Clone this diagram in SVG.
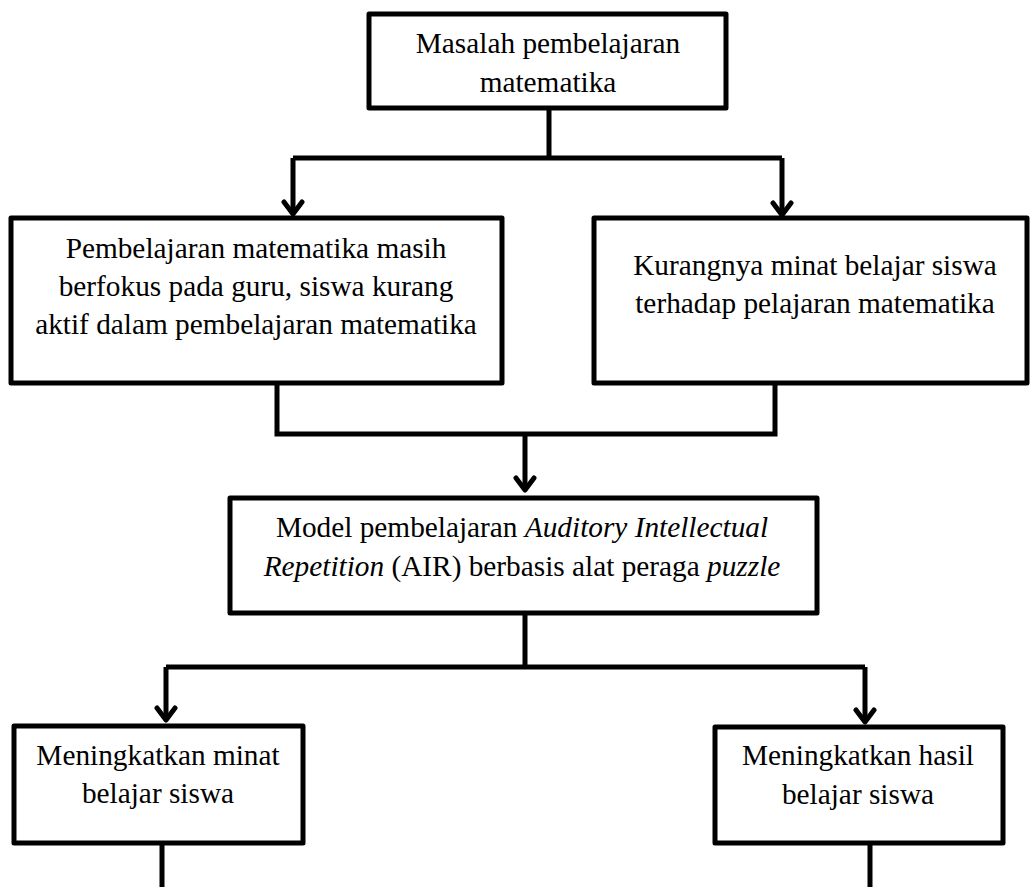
<svg xmlns="http://www.w3.org/2000/svg" width="1031" height="887" viewBox="0 0 1031 887">
<style>
.box{fill:#fff;stroke:#000;stroke-width:5;stroke-linejoin:round}
.ln{fill:none;stroke:#000;stroke-width:5;stroke-linejoin:miter}
.ah{fill:none;stroke:#000;stroke-width:5;stroke-linecap:round;stroke-linejoin:round}
text{font-family:"Liberation Serif","Times New Roman",serif;font-size:29.3px;fill:#000;text-anchor:middle}
.i{font-style:italic}
</style>
<rect width="1031" height="887" fill="#fff"/>
<g id="connectors">
<path class="ln" d="M549,108 V158 M293,158 H782 M293,158 V213 M782,158 V214"/>
<path class="ah" d="M284,202 L293,214 L302,202 M773,203 L782,215 L791,203"/>
<path class="ln" d="M277,383 V434 H775 V383 M525,434 V490"/>
<path class="ah" d="M516,478 L525,490 L534,478"/>
<path class="ln" d="M525,613 V667 M166,667 H865 M166,667 V720 M865,667 V722"/>
<path class="ah" d="M157,708 L166,720 L175,708 M856,710 L865,722 L874,710"/>
<path class="ln" d="M162,843 V887 M870,843 V887"/>
</g>
<g id="n1">
<rect class="box" x="369" y="14" width="357" height="94"/>
<text x="548" y="53">Masalah pembelajaran</text>
<text x="548" y="92">matematika</text>
</g>
<g id="n2">
<rect class="box" x="11" y="218" width="491" height="165"/>
<text x="256" y="258">Pembelajaran matematika masih</text>
<text x="256" y="296">berfokus pada guru, siswa kurang</text>
<text x="256" y="334">aktif dalam pembelajaran matematika</text>
</g>
<g id="n3">
<rect class="box" x="594" y="218" width="433" height="165"/>
<text x="815" y="275">Kurangnya minat belajar siswa</text>
<text x="815" y="313">terhadap pelajaran matematika</text>
</g>
<g id="n4">
<rect class="box" x="230" y="498" width="587" height="115"/>
<text x="522" y="537">Model pembelajaran <tspan class="i">Auditory Intellectual</tspan></text>
<text x="522" y="576"><tspan class="i">Repetition</tspan> (AIR) berbasis alat peraga <tspan class="i">puzzle</tspan></text>
</g>
<g id="n5">
<rect class="box" x="14" y="726" width="289" height="117"/>
<text x="158" y="765">Meningkatkan minat</text>
<text x="158" y="803">belajar siswa</text>
</g>
<g id="n6">
<rect class="box" x="715" y="727" width="288" height="116"/>
<text x="858" y="765">Meningkatkan hasil</text>
<text x="858" y="804">belajar siswa</text>
</g>
</svg>
